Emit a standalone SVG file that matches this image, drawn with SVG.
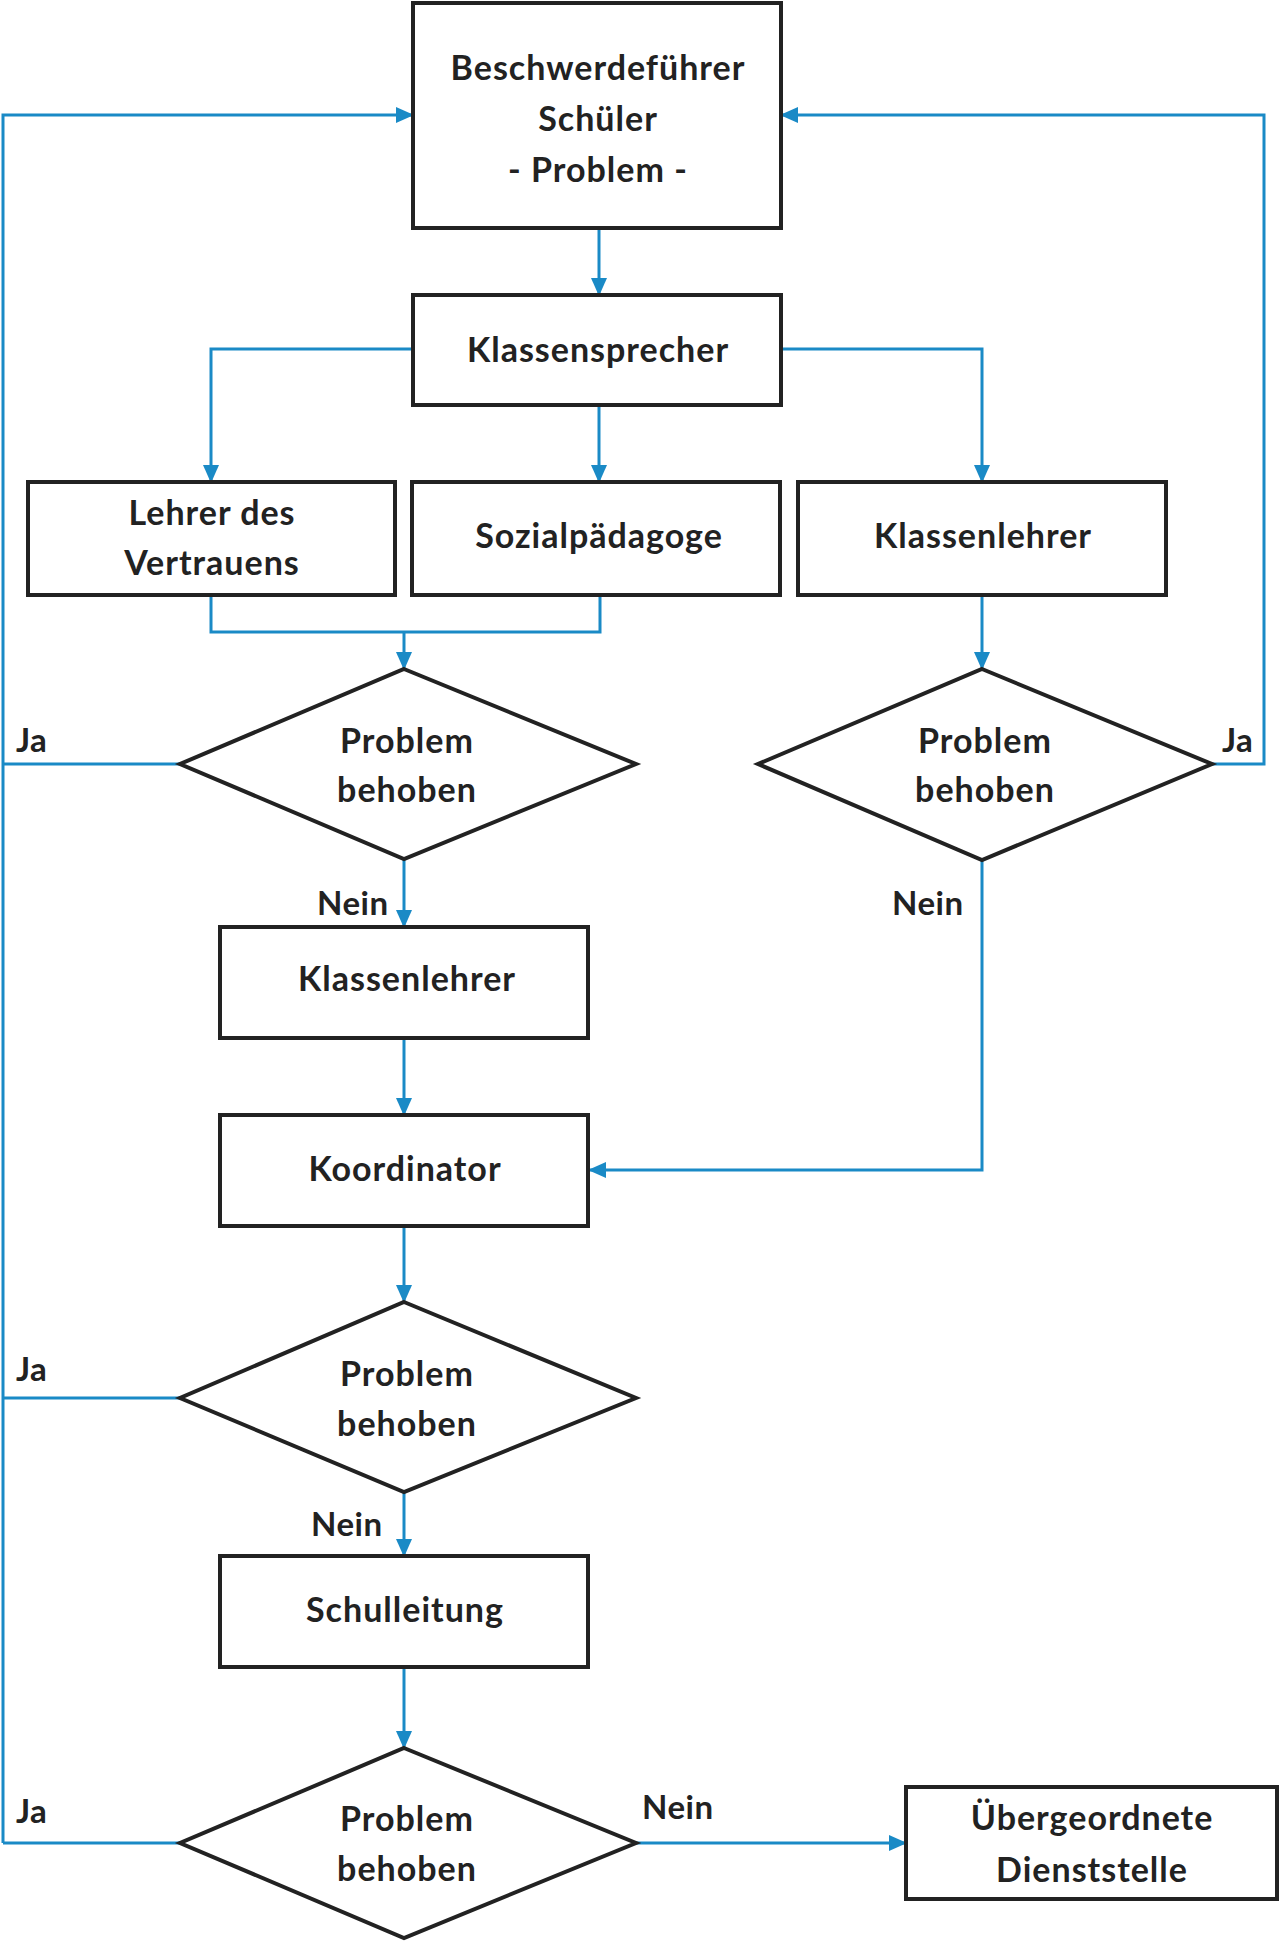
<svg xmlns="http://www.w3.org/2000/svg" width="1280" height="1942" viewBox="0 0 1280 1942">
<style>
.box{fill:#fff;stroke:#222;stroke-width:4}
.t{font-family:Lato,"Liberation Sans",sans-serif;font-weight:bold;font-size:34px;letter-spacing:1px;fill:#222;text-anchor:middle}
.l{font-family:Lato,"Liberation Sans",sans-serif;font-weight:bold;font-size:33px;letter-spacing:0.5px;fill:#222}
.c{fill:none;stroke:#1a8ac6;stroke-width:3}
.a{marker-end:url(#arr)}
</style>
<defs>
<marker id="arr" markerUnits="userSpaceOnUse" markerWidth="18" markerHeight="16" refX="17" refY="8" orient="auto">
<path d="M0,0 L18,8 L0,16 z" fill="#1a8ac6"/>
</marker>
</defs>
<rect width="1280" height="1942" fill="#fff"/>
<g id="connectors">
<path class="c a" d="M599,228 V295"/>
<path class="c a" d="M413,349 H211 V482"/>
<path class="c a" d="M599,405 V482"/>
<path class="c a" d="M781,349 H982 V482"/>
<path class="c" d="M211,595 V632 H600 V595"/>
<path class="c a" d="M404,632 V669"/>
<path class="c a" d="M982,595 V669"/>
<path class="c" d="M180,764 H3"/>
<path class="c a" d="M3,1843 V115 H413"/>
<path class="c a" d="M1212,764 H1264 V115 H781"/>
<path class="c a" d="M404,859 V927"/>
<path class="c a" d="M404,1038 V1115"/>
<path class="c a" d="M982,860 V1170 H589"/>
<path class="c a" d="M404,1226 V1302"/>
<path class="c" d="M180,1398 H3"/>
<path class="c a" d="M404,1492 V1556"/>
<path class="c a" d="M404,1667 V1748"/>
<path class="c" d="M180,1843 H3"/>
<path class="c a" d="M636,1843 H906"/>
</g>
<g id="beschwerdefuehrer">
<rect class="box" x="413" y="3" width="368" height="225"/>
<text class="t" x="598" y="80">Beschwerdeführer</text>
<text class="t" x="598" y="131">Schüler</text>
<text class="t" x="598" y="182">- Problem -</text>
</g>
<g id="klassensprecher">
<rect class="box" x="413" y="295" width="368" height="110"/>
<text class="t" x="598" y="362">Klassensprecher</text>
</g>
<g id="lehrer-vertrauen">
<rect class="box" x="28" y="482" width="367" height="113"/>
<text class="t" x="212" y="525">Lehrer des</text>
<text class="t" x="212" y="575">Vertrauens</text>
</g>
<g id="sozialpaedagoge">
<rect class="box" x="412" y="482" width="368" height="113"/>
<text class="t" x="599" y="548">Sozialpädagoge</text>
</g>
<g id="klassenlehrer-rechts">
<rect class="box" x="798" y="482" width="368" height="113"/>
<text class="t" x="983" y="548">Klassenlehrer</text>
</g>
<g id="entscheidung-1">
<polygon class="box" points="404,669 636,764 404,859 180,764"/>
<text class="t" x="407" y="753">Problem</text>
<text class="t" x="407" y="802">behoben</text>
</g>
<g id="entscheidung-rechts">
<polygon class="box" points="982,669 1212,764 982,860 758,764"/>
<text class="t" x="985" y="753">Problem</text>
<text class="t" x="985" y="802">behoben</text>
</g>
<g id="klassenlehrer-mitte">
<rect class="box" x="220" y="927" width="368" height="111"/>
<text class="t" x="407" y="991">Klassenlehrer</text>
</g>
<g id="koordinator">
<rect class="box" x="220" y="1115" width="368" height="111"/>
<text class="t" x="405" y="1181">Koordinator</text>
</g>
<g id="entscheidung-2">
<polygon class="box" points="404,1302 636,1398 404,1492 180,1398"/>
<text class="t" x="407" y="1386">Problem</text>
<text class="t" x="407" y="1436">behoben</text>
</g>
<g id="schulleitung">
<rect class="box" x="220" y="1556" width="368" height="111"/>
<text class="t" x="405" y="1622">Schulleitung</text>
</g>
<g id="entscheidung-3">
<polygon class="box" points="404,1748 636,1843 404,1938 180,1843"/>
<text class="t" x="407" y="1831">Problem</text>
<text class="t" x="407" y="1881">behoben</text>
</g>
<g id="dienststelle">
<rect class="box" x="906" y="1787" width="371" height="112"/>
<text class="t" x="1092" y="1830">Übergeordnete</text>
<text class="t" x="1092" y="1882">Dienststelle</text>
</g>
<g id="labels">
<text class="l" x="16" y="752">Ja</text>
<text class="l" x="1222" y="752">Ja</text>
<text class="l" x="16" y="1381">Ja</text>
<text class="l" x="16" y="1823">Ja</text>
<text class="l" x="317" y="915">Nein</text>
<text class="l" x="892" y="915">Nein</text>
<text class="l" x="311" y="1536">Nein</text>
<text class="l" x="642" y="1819">Nein</text>
</g>
</svg>
